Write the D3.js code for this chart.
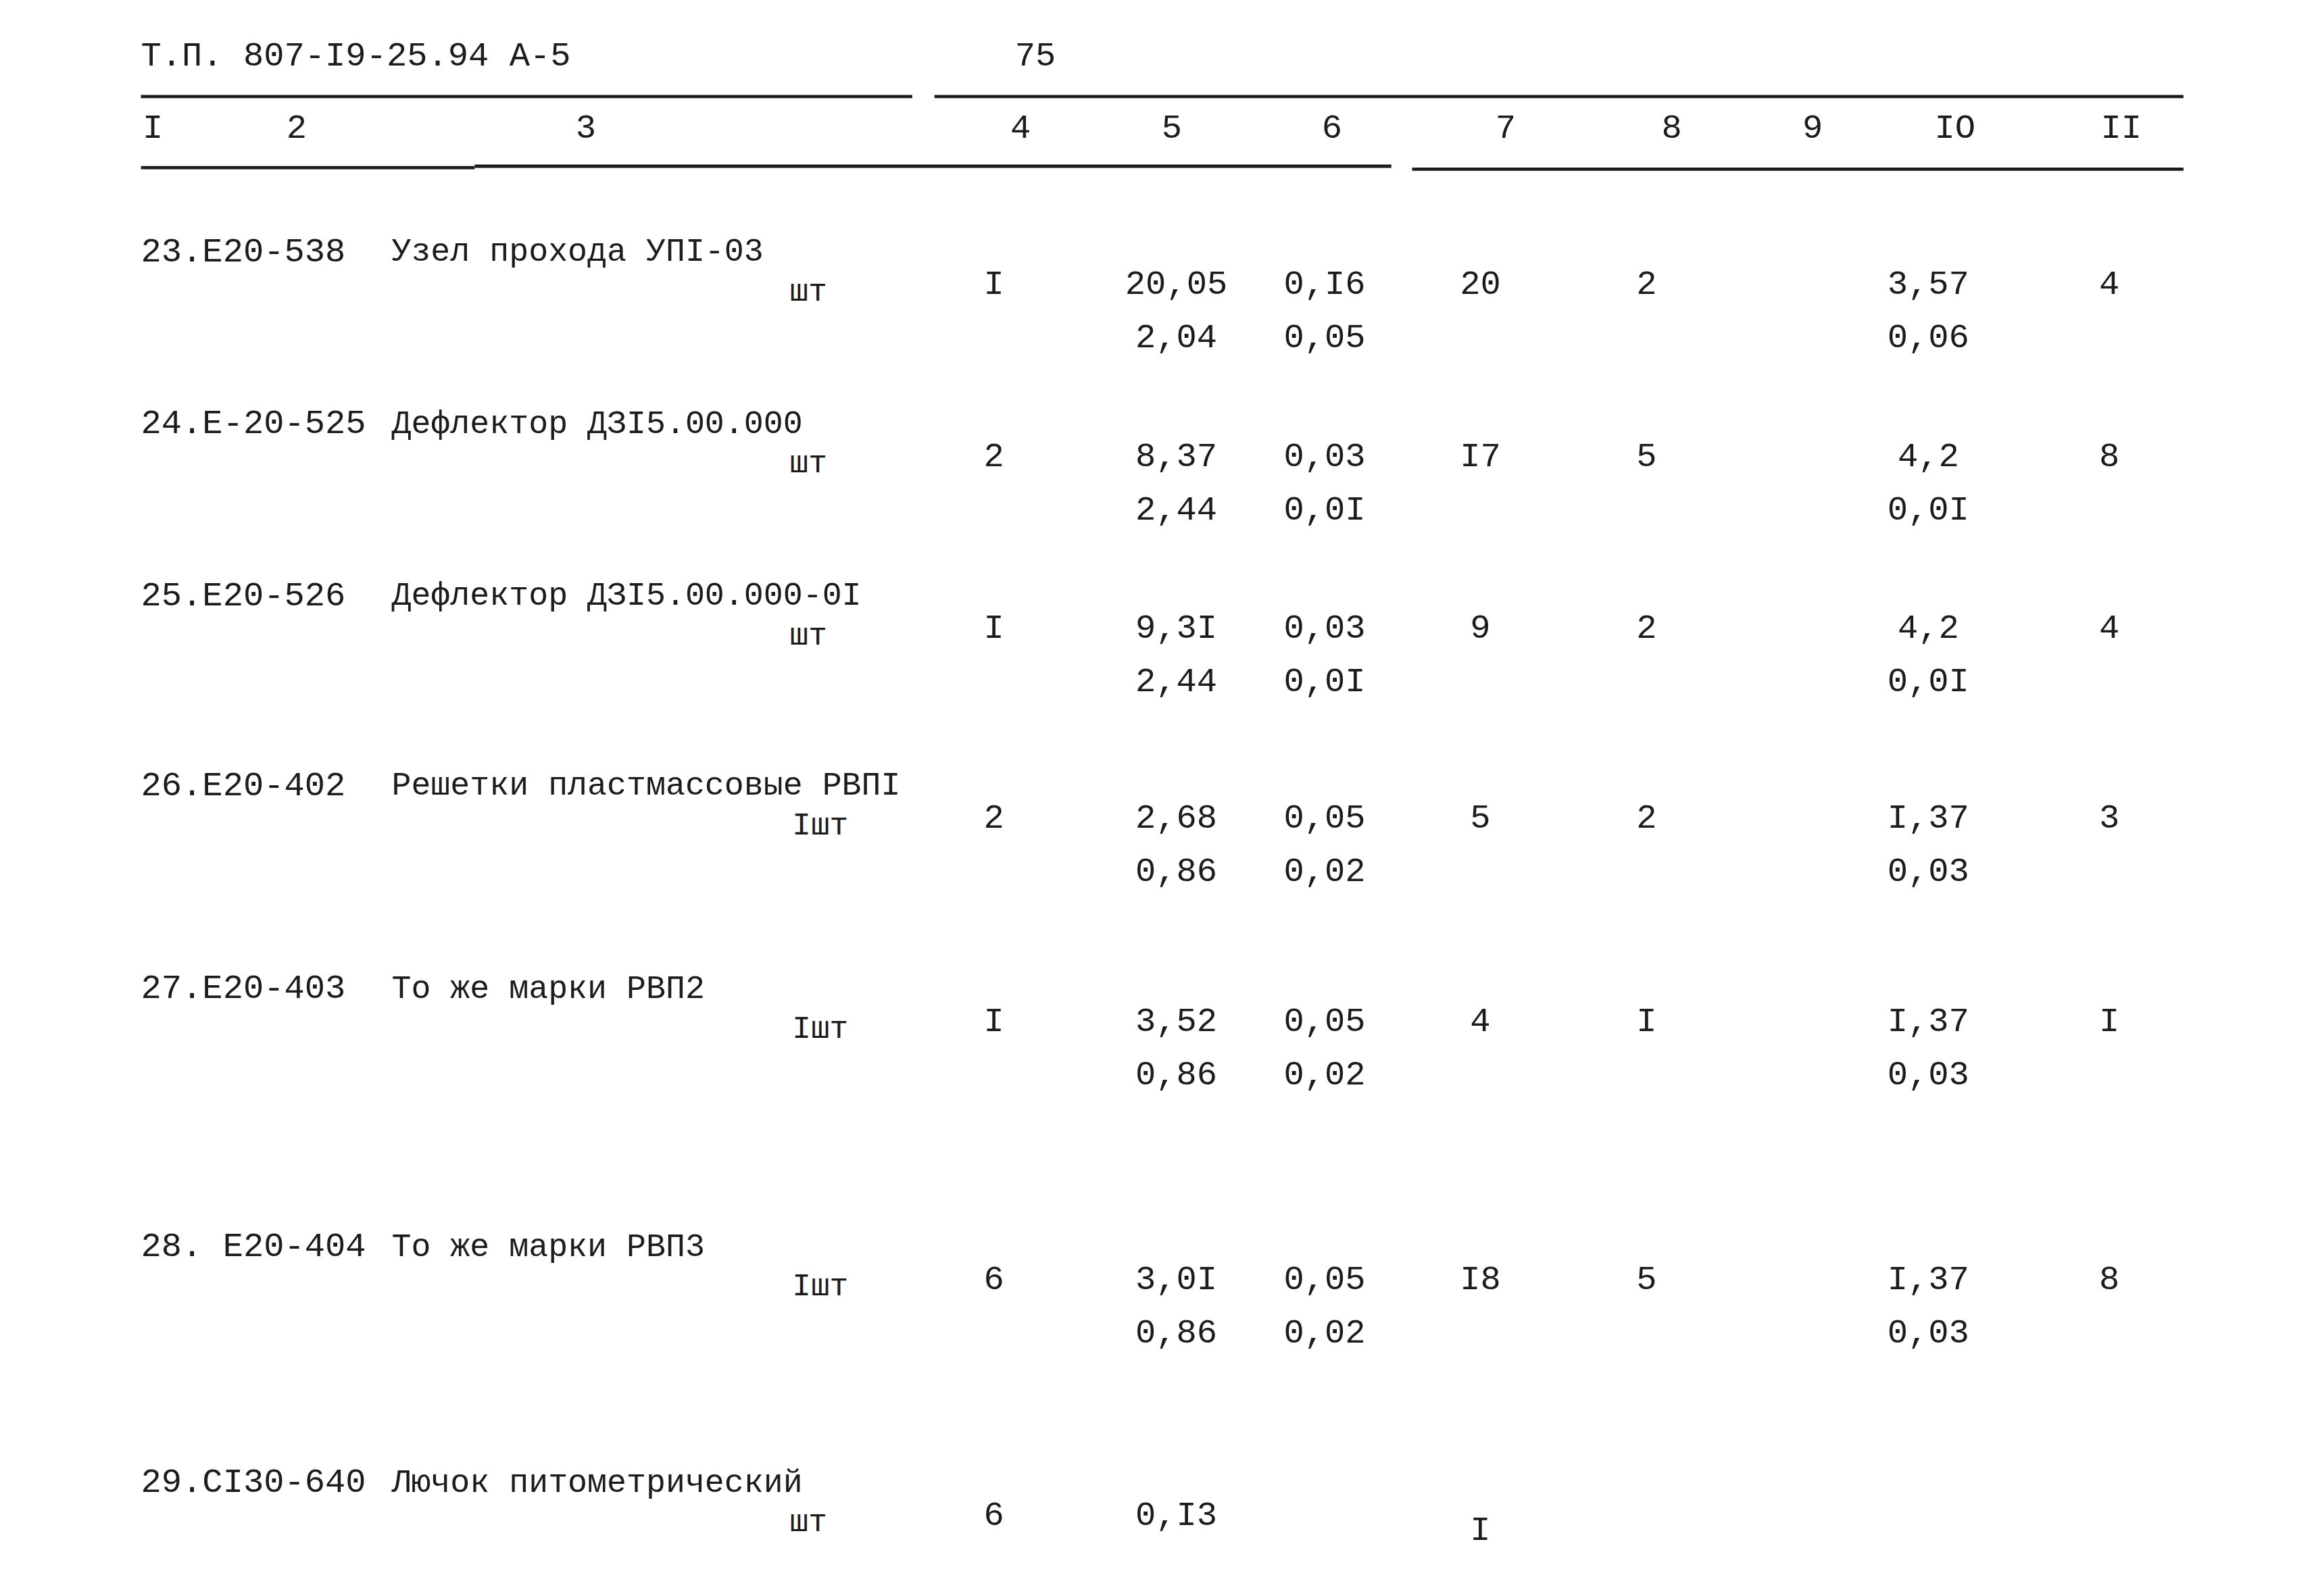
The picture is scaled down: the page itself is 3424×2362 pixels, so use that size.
<!DOCTYPE html>
<html><head><meta charset="utf-8">
<script src="https://cdn.jsdelivr.net/npm/d3@7"></script>
<style>html,body{margin:0;background:#fff}</style>
</head><body><div id="chart"></div>
<script>
const HEADER_LEFT = 'Т.П. 807-I9-25.94  А-5';
const PAGE_NO = '75';
const COL_HEADS = ['I', '2', '3', '4', '5', '6', '7', '8', '9', 'IO', 'II'];
const CODES = ['23.Е20-538', '24.Е-20-525', '25.Е20-526', '26.Е20-402', '27.Е20-403', '28. Е20-404', '29.СI30-640'];
const NAMES = ['Узел прохода УПI-03', 'Дефлектор ДЗI5.00.000', 'Дефлектор ДЗI5.00.000-0I',
  'Решетки пластмассовые РВПI', 'То же марки РВП2', 'То же марки РВП3', 'Лючок питометрический'];
const UNITS = ['шт', 'шт', 'шт', 'Iшт', 'Iшт', 'Iшт', 'шт'];
const COL4 = ['I', '2', 'I', '2', 'I', '6', '6'];
const COL5A = ['20,05', '8,37', '9,3I', '2,68', '3,52', '3,0I', '0,I3'];
const COL5B = ['2,04', '2,44', '2,44', '0,86', '0,86', '0,86', ''];
const COL6A = ['0,I6', '0,03', '0,03', '0,05', '0,05', '0,05', ''];
const COL6B = ['0,05', '0,0I', '0,0I', '0,02', '0,02', '0,02', ''];
const COL7 = ['20', 'I7', '9', '5', '4', 'I8', 'I'];
const COL8 = ['2', '5', '2', '2', 'I', '5', ''];
const COL10A = ['3,57', '4,2', '4,2', 'I,37', 'I,37', 'I,37', ''];
const COL10B = ['0,06', '0,0I', '0,0I', '0,03', '0,03', '0,03', ''];
const COL11 = ['4', '8', '4', '3', 'I', '8', ''];
// row label baselines in page units
const ROW_Y = [170, 286, 402, 530, 667, 841, 1000];

const W = 1560, H = 1076;
const svg = d3.select('#chart').append('svg')
  .attr('width', 3424).attr('height', 2362)
  .attr('viewBox', `0 0 ${W} ${H}`);
const ink = '#1c1c1c';
const font = 'Liberation Mono, DejaVu Sans Mono, monospace';

const x = d3.scaleOrdinal()
  .domain(['c1', 'c2', 'c3', 'c4', 'c5', 'c6', 'c7', 'c8', 'c9', 'c10', 'c11'])
  .range([103, 200, 395, 688, 790, 898, 1015, 1127, 1222, 1318, 1430]);
const xv = d3.scaleOrdinal()
  .domain(['unit', 'c4', 'c5', 'c6', 'c7', 'c8', 'c10', 'c11'])
  .range([545, 670, 793, 893, 998, 1110, 1300, 1422]);

function txt(px, py, s, anchor = 'middle', size = 23) {
  svg.append('text').attr('x', px).attr('y', py).attr('text-anchor', anchor)
    .attr('font-family', font).attr('font-size', size).attr('fill', ink)
    .attr('dominant-baseline', 'middle').text(s);
}

txt(95, 38, HEADER_LEFT, 'start');
txt(698, 38, PAGE_NO);

const lines = [[95, 615, 65], [630, 1472, 65], [95, 320, 113], [320, 938, 112], [952, 1472, 114]];
svg.selectAll('line').data(lines).join('line')
  .attr('x1', d => d[0]).attr('x2', d => d[1]).attr('y1', d => d[2]).attr('y2', d => d[2])
  .attr('stroke', ink).attr('stroke-width', 2.2);

x.domain().forEach((k, i) => txt(x(k), 87, COL_HEADS[i]));

CODES.forEach((c, i) => {
  const y0 = ROW_Y[i], y1 = y0 + 22, y2 = y0 + 58;
  txt(95, y0, c, 'start');
  txt(264, y0, NAMES[i], 'start', 22);
  txt(xv('unit') + (UNITS[i].length > 2 ? 8 : 0), y0 + 27, UNITS[i], 'middle', 21);
  txt(xv('c4'), y1, COL4[i]);
  txt(xv('c5'), y1, COL5A[i]);
  txt(xv('c5'), y2, COL5B[i]);
  txt(xv('c6'), y1, COL6A[i]);
  txt(xv('c6'), y2, COL6B[i]);
  txt(xv('c7'), i === 6 ? y1 + 10 : y1, COL7[i]);
  txt(xv('c8'), y1, COL8[i]);
  txt(xv('c10'), y1, COL10A[i]);
  txt(xv('c10'), y2, COL10B[i]);
  txt(xv('c11'), y1, COL11[i]);
});
</script></body></html>
